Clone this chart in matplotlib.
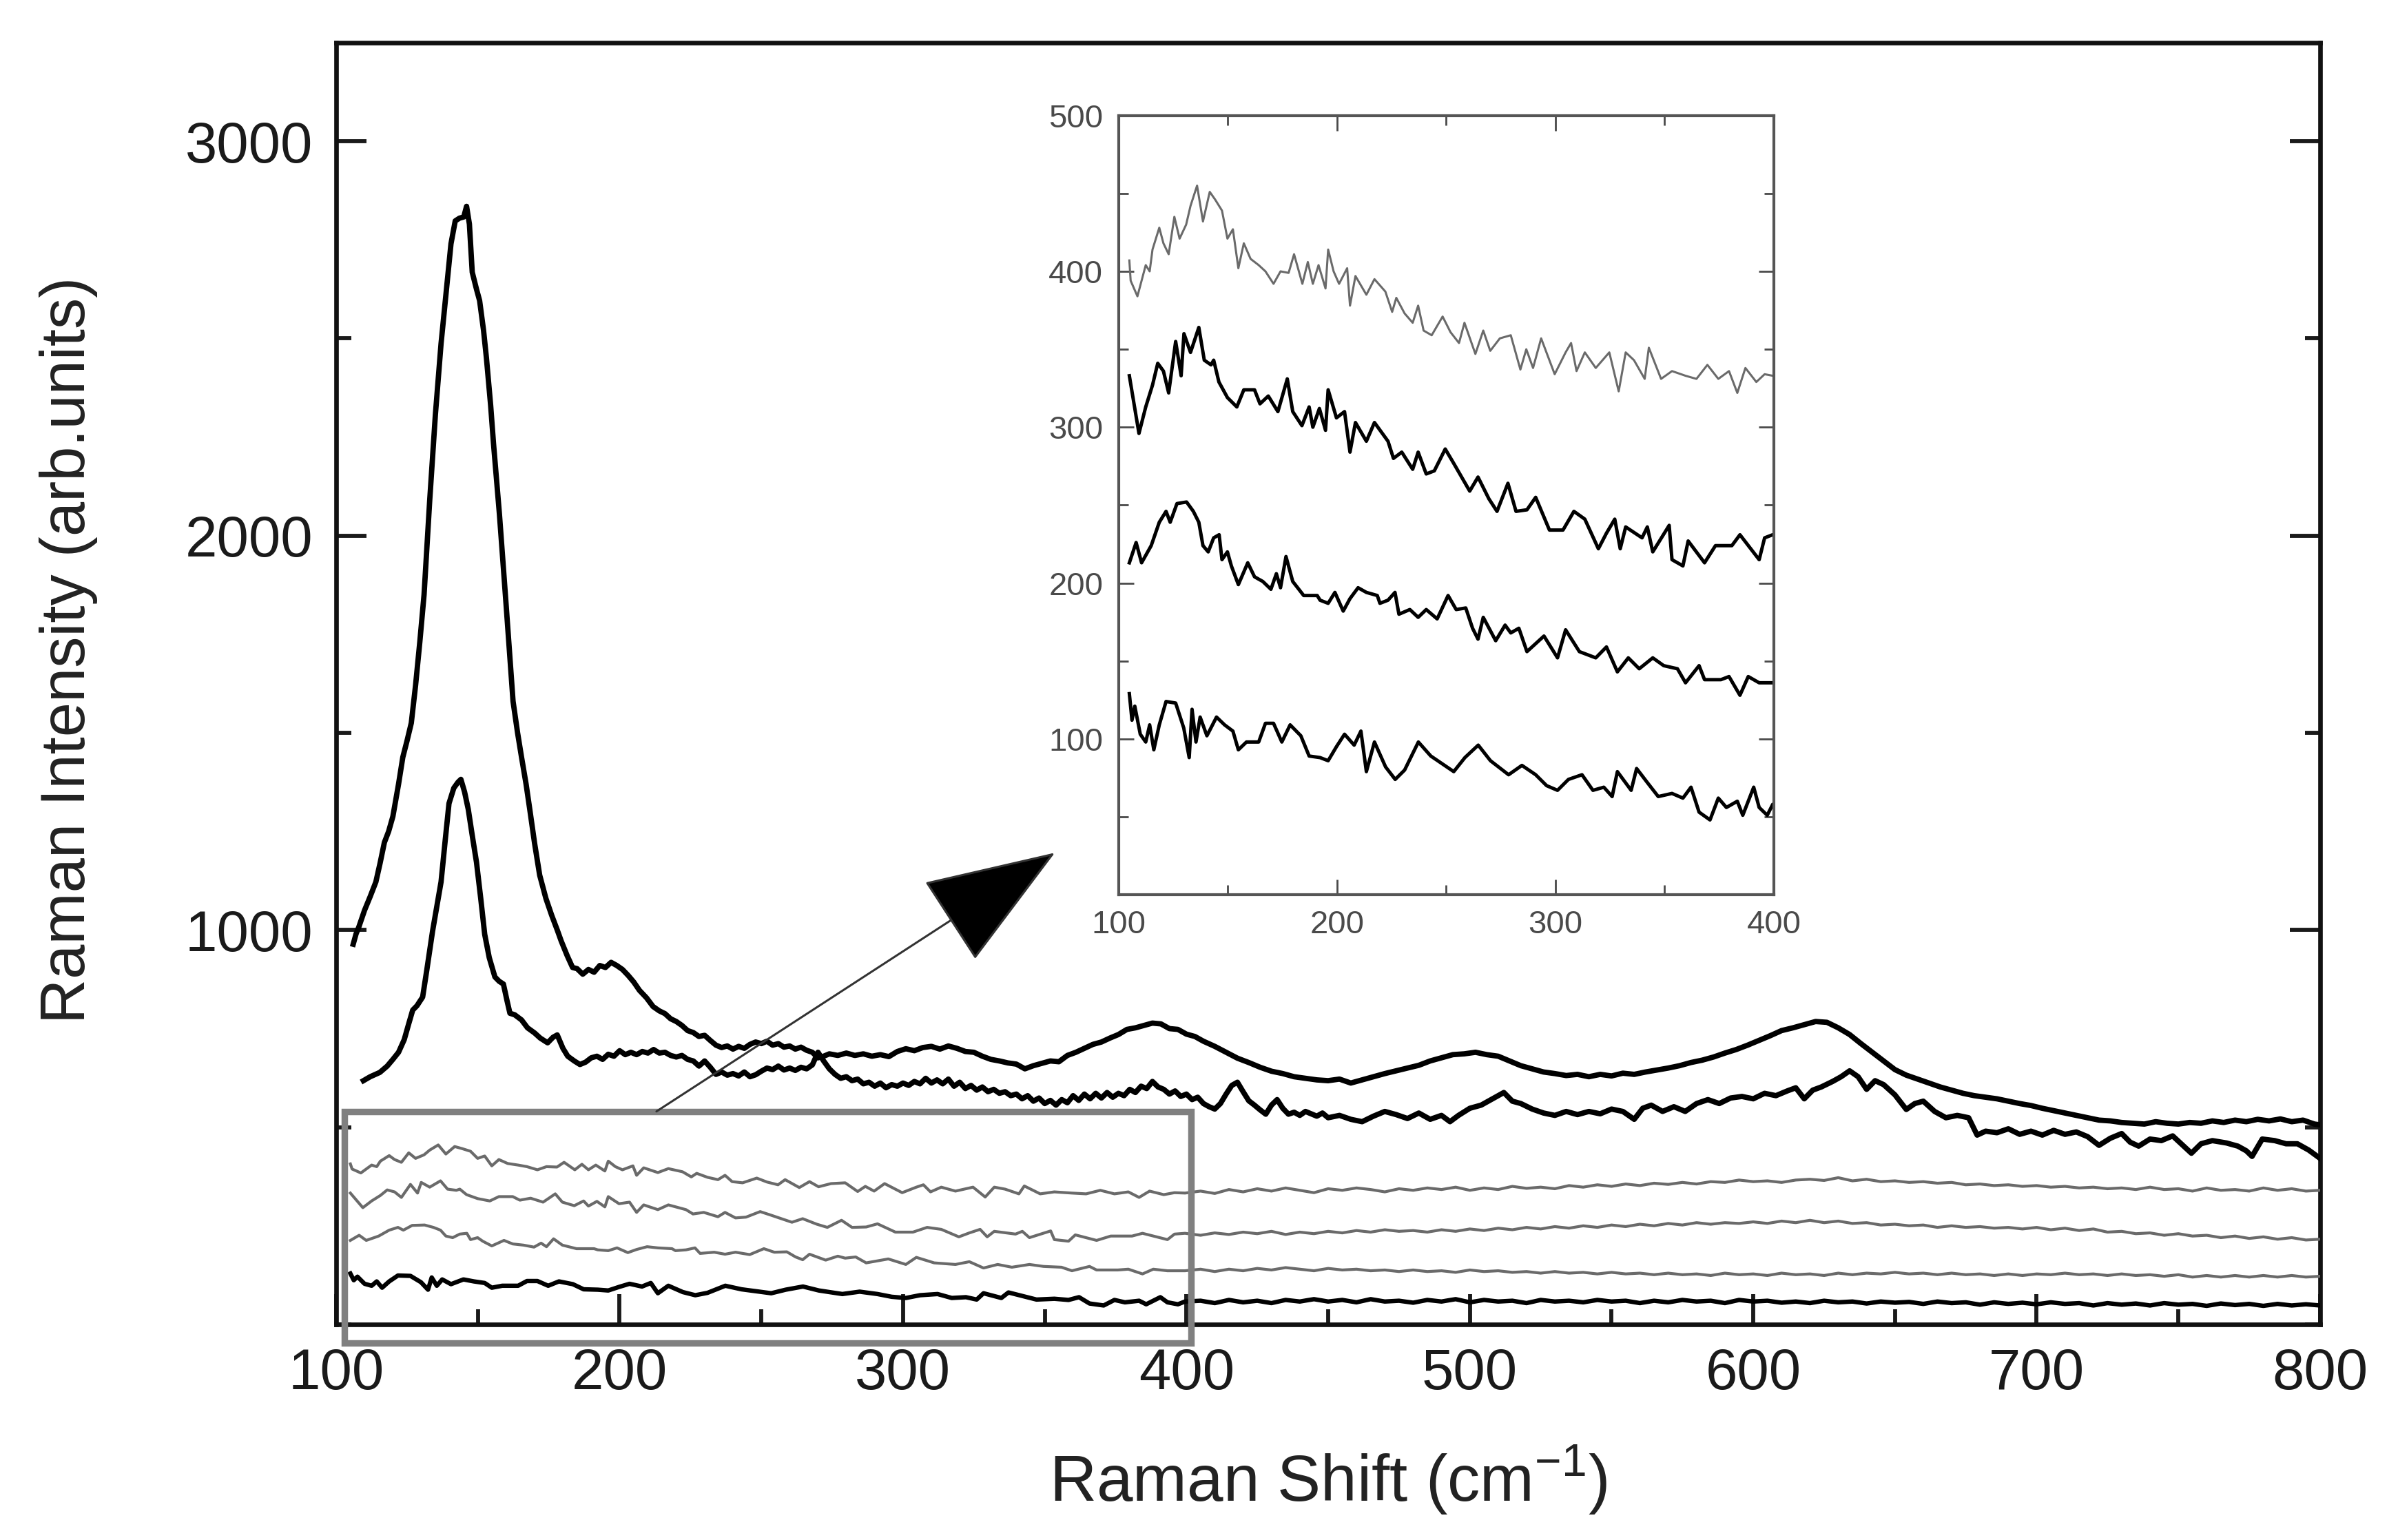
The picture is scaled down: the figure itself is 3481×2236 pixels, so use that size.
import numpy as np
import matplotlib
matplotlib.use("Agg")
import matplotlib.pyplot as plt
from matplotlib.patches import Rectangle
from matplotlib.ticker import MultipleLocator

plt.rcParams['font.family'] = ['Liberation Sans', 'DejaVu Sans']
plt.rcParams['mathtext.fontset'] = 'custom'
plt.rcParams['mathtext.rm'] = 'Liberation Sans'

# --- DATA: (Raman shift, intensity) pairs ---
strong_peak = [
    (106, 964), (107, 990), (108, 1008), (110, 1050), (112, 1085), (114, 1122), (115.5, 1170),
    (117, 1222), (118.5, 1250), (120, 1288), (122, 1370), (123.5, 1438), (125, 1480), (126.5, 1525),
    (128, 1620), (129.5, 1730), (131, 1850), (133, 2090), (135, 2307), (137, 2487), (139, 2632),
    (140.5, 2740), (142, 2798), (143.5, 2805), (145, 2808), (146, 2835), (147, 2790), (148, 2668),
    (149.5, 2625), (150.6, 2596), (152, 2520), (153, 2451), (154.5, 2330), (155.5, 2234), (157.6, 2054),
    (160, 1820), (162.4, 1580), (164, 1500), (165.4, 1438), (167, 1370), (168.3, 1306), (170, 1220),
    (171.8, 1139), (174, 1080), (176, 1038), (178, 1000), (179.4, 972), (181.5, 935), (183.4, 905),
    (185, 902), (187, 888), (189, 900), (191, 893), (193, 910), (195, 905), (197, 918), (199, 910),
    (201, 900), (203, 885), (205, 868), (207, 847), (209.5, 828), (211.8, 806), (214, 795), (216, 788),
    (218, 775), (220, 768), (222, 758), (224, 745), (226, 740), (228, 730), (230, 733), (232, 720),
    (234, 708), (236, 702), (238, 706), (240, 698), (242, 705), (244, 700), (246, 710), (248, 716),
    (250, 712), (252, 718), (254, 708), (256, 712), (258, 703), (260, 706), (262, 698), (264, 703),
    (266, 695), (268, 690), (270, 676), (272, 680), (274, 686), (277, 682), (280, 688), (283, 682),
    (286, 686), (289, 680), (292, 684), (295, 679), (298, 692), (301, 699), (304, 694), (307, 702),
    (310, 705), (313, 698), (316, 706), (319, 700), (322, 692), (325, 690), (328, 680), (331, 672),
    (334, 668), (337, 663), (340, 660), (343, 648), (346, 656), (349, 662), (352, 668), (355, 666),
    (358, 682), (361, 690), (364, 700), (367, 710), (370, 716), (373, 726), (376, 735), (379, 748),
    (382, 752), (385, 758), (388, 764), (391, 762), (394, 750), (397, 748), (400, 736), (403, 730),
    (406, 718), (410, 705), (414, 690), (418, 675), (422, 664), (426, 652), (430, 642), (434, 636),
    (438, 628), (442, 624), (446, 620), (450, 618), (454, 622), (458, 612), (462, 620), (466, 628),
    (470, 636), (474, 643), (478, 650), (482, 657), (486, 668), (490, 676), (494, 684), (498, 686),
    (502, 690), (506, 684), (510, 680), (514, 668), (518, 656), (522, 648), (526, 640), (530, 636),
    (534, 631), (538, 634), (542, 628), (546, 634), (550, 630), (554, 637), (558, 634), (562, 640),
    (566, 645), (570, 650), (574, 656), (578, 664), (582, 670), (586, 678), (590, 688), (594, 697),
    (598, 708), (602, 720), (606, 732), (610, 745), (614, 752), (618, 760), (622, 768), (626, 766),
    (630, 752), (634, 735), (638, 712), (642, 690), (646, 668), (650, 646), (654, 632), (658, 622),
    (662, 612), (666, 602), (670, 594), (674, 586), (678, 580), (682, 576), (686, 572), (690, 566),
    (694, 560), (698, 555), (702, 548), (706, 542), (710, 536), (714, 530), (718, 524), (722, 518),
    (726, 516), (730, 512), (734, 510), (738, 508), (742, 514), (746, 510), (750, 508), (754, 512),
    (758, 510), (762, 516), (766, 512), (770, 518), (774, 514), (778, 520), (782, 516), (786, 521),
    (790, 514), (794, 518), (798, 508), (800, 506),
]

weak_peak = [
    (109.6, 618), (112, 628), (115.4, 639), (118, 655), (120, 672), (122, 690), (124, 722), (125.5, 760),
    (127, 797), (128.5, 808), (130.5, 830), (132, 900), (134, 997), (135.5, 1060), (137, 1122),
    (138.5, 1230), (139.8, 1321), (141.5, 1360), (143, 1375), (144, 1382), (145.3, 1350), (146.6, 1306),
    (148, 1240), (149.5, 1172), (151, 1080), (152.4, 989), (154, 930), (156, 881), (157.5, 870),
    (159, 863), (160.3, 820), (161.3, 789), (163, 785), (165.4, 772), (167.5, 752), (170, 739),
    (172, 726), (174.6, 714), (176.5, 728), (178, 734), (180, 700), (181.7, 680), (184, 668), (186, 659),
    (188, 665), (190, 676), (192, 680), (194, 672), (196, 685), (198, 680), (200, 694), (202, 684),
    (204, 690), (206, 684), (208, 692), (210, 688), (212, 697), (214, 688), (216, 690), (218, 682),
    (220, 678), (222, 682), (224, 672), (226, 668), (228, 655), (230, 668), (232, 652), (234, 634),
    (236, 640), (238, 632), (240, 636), (242, 630), (244, 640), (246, 628), (248, 633), (250, 642),
    (252, 650), (254, 646), (256, 655), (258, 645), (260, 650), (262, 644), (264, 652), (266, 648),
    (268, 658), (270, 690), (272, 668), (274, 648), (276, 634), (278, 624), (280, 628), (282, 618),
    (284, 622), (286, 610), (288, 614), (290, 604), (292, 612), (294, 600), (296, 608), (298, 604),
    (300, 612), (302, 606), (304, 616), (306, 610), (308, 624), (310, 612), (312, 620), (314, 610),
    (316, 622), (318, 604), (320, 614), (322, 598), (324, 606), (326, 594), (328, 602), (330, 590),
    (332, 596), (334, 586), (336, 590), (338, 580), (340, 584), (342, 572), (344, 580), (346, 566),
    (348, 574), (350, 560), (352, 568), (354, 556), (356, 570), (358, 562), (360, 580), (362, 568),
    (364, 584), (366, 572), (368, 586), (370, 574), (372, 588), (374, 576), (376, 586), (378, 580),
    (380, 596), (382, 588), (384, 604), (386, 598), (388, 616), (390, 602), (392, 596), (394, 584),
    (396, 592), (398, 578), (400, 584), (402, 570), (404, 576), (406, 560), (408, 552), (410, 546),
    (412, 560), (414, 584), (416, 606), (418, 614), (420, 590), (422, 567), (424, 556), (426, 544),
    (428, 533), (430, 556), (432, 570), (434, 548), (436, 533), (438, 538), (440, 530), (442, 540),
    (444, 534), (446, 528), (448, 536), (450, 524), (454, 530), (458, 520), (462, 514), (466, 528),
    (470, 540), (474, 532), (478, 522), (482, 536), (486, 520), (490, 530), (493, 514), (496, 530),
    (500, 548), (504, 556), (508, 572), (512, 588), (515, 566), (518, 560), (522, 546), (526, 536),
    (530, 530), (534, 540), (538, 532), (542, 540), (546, 534), (550, 546), (554, 540), (558, 520),
    (561, 548), (564, 556), (568, 540), (572, 552), (576, 540), (580, 560), (584, 570), (588, 560),
    (592, 574), (596, 578), (600, 572), (604, 586), (608, 580), (612, 592), (615, 600), (618, 572),
    (621, 594), (624, 602), (628, 616), (631, 628), (634, 643), (637, 628), (640, 596), (643, 618),
    (646, 608), (650, 582), (654, 545), (657, 560), (660, 566), (664, 540), (668, 524), (672, 530),
    (676, 524), (679, 480), (682, 490), (686, 486), (690, 496), (694, 482), (698, 490), (702, 480),
    (706, 492), (710, 482), (714, 488), (718, 476), (722, 454), (726, 472), (730, 484), (733, 462),
    (736, 452), (740, 470), (744, 466), (748, 478), (751, 458), (754.6, 434), (758, 458), (762, 466),
    (767, 460), (771, 452), (774, 440), (776, 426), (779.6, 470), (784, 466), (788, 458), (792, 458),
    (796, 442), (800, 421),
]

flat_1 = [
    (105, 407), (105.6, 394), (108.7, 384), (112.5, 404), (114.3, 400), (115.6, 414), (118.7, 428),
    (120.6, 418), (123, 411), (125.6, 435), (128, 421), (131, 430), (133, 442), (136, 455), (138.7, 432),
    (141.8, 451), (144.3, 446), (147.4, 439), (149.9, 421), (152.4, 427), (154.9, 402), (157.4, 418),
    (160.5, 408), (164.2, 404), (167.3, 400), (171, 392), (174.2, 400), (177.9, 399), (180.4, 411),
    (184.2, 392), (186.7, 406), (189, 392), (191.6, 404), (194.8, 389), (196, 414), (198.5, 400),
    (201, 392), (204.7, 402), (206, 378), (208.5, 397), (213.5, 385), (217.2, 395), (222.2, 387),
    (225.3, 374), (227.2, 383), (231, 373), (234.7, 367), (237.2, 378), (239.7, 362), (243.4, 359),
    (248.4, 371), (252, 361), (255.9, 354), (258.4, 367), (263.4, 347), (267, 362), (270.2, 349),
    (274.6, 357), (279.6, 359), (284, 337), (286.7, 350), (289.8, 338), (293.5, 357), (299.7, 334),
    (304.7, 348), (307.2, 354), (309.7, 336), (313.5, 348), (318.5, 338), (324.7, 348), (329, 323),
    (332.2, 348), (336, 343), (340.9, 331), (342.8, 351), (348.4, 331), (353.4, 336), (359.6, 333),
    (364.6, 331), (369.6, 340), (374.6, 331), (379.5, 336), (383.3, 322), (387, 338), (392, 329),
    (395.8, 334), (399.5, 333), (405, 338), (410, 332), (415, 342), (420, 336), (425, 344), (430, 338),
    (435, 346), (440, 340), (445, 334), (450, 344), (455, 340), (460, 346), (465, 342), (470, 336),
    (475, 344), (480, 340), (485, 346), (490, 342), (495, 348), (500, 340), (505, 346), (510, 342),
    (515, 350), (520, 345), (525, 348), (530, 344), (535, 352), (540, 348), (545, 354), (550, 350),
    (555, 356), (560, 352), (565, 358), (570, 355), (575, 360), (580, 356), (585, 362), (590, 360),
    (595, 366), (600, 362), (605, 364), (610, 360), (615, 366), (620, 368), (625, 365), (630, 372),
    (635, 364), (640, 368), (645, 362), (650, 364), (655, 360), (660, 362), (665, 358), (670, 360),
    (675, 354), (680, 356), (685, 352), (690, 354), (695, 350), (700, 352), (705, 348), (710, 350),
    (715, 346), (720, 348), (725, 344), (730, 346), (735, 342), (740, 348), (745, 342), (750, 344),
    (755, 338), (760, 346), (765, 340), (770, 342), (775, 338), (780, 346), (785, 340), (790, 344),
    (795, 338), (800, 340),
]

flat_2 = [
    (105, 333), (109.4, 296), (112.5, 313), (115.6, 327), (118, 341), (120.6, 336), (123, 322),
    (126.2, 355), (128.7, 333), (130, 360), (133, 348), (136.8, 364), (139.3, 343), (142.4, 340),
    (143.6, 343), (146, 329), (149.9, 319), (154.2, 313), (157.4, 324), (162.3, 324), (164.8, 315),
    (168.6, 320), (173, 310), (177.3, 331), (179.8, 310), (184, 301), (187.3, 313), (189, 300),
    (192, 312), (194.8, 298), (196, 324), (199.8, 306), (203.5, 310), (206, 284), (208.5, 303),
    (213.5, 291), (217.2, 303), (223.4, 291), (225.9, 280), (229.7, 284), (234.7, 273), (237.2, 284),
    (240.9, 270), (244.6, 272), (249.6, 286), (253.4, 277), (257.1, 268), (260.8, 259), (264.6, 268),
    (269.6, 254), (273.3, 246), (278.3, 264), (282, 246), (287, 247), (291, 255), (297.3, 234),
    (303.5, 234), (308.5, 246), (313.5, 241), (319.7, 222), (323.4, 232), (327.2, 241), (329.7, 222),
    (332.2, 236), (339.7, 229), (342.1, 236), (344.6, 220), (352.1, 237), (353.4, 215), (358.4, 211),
    (360.8, 227), (368.3, 213), (373.3, 224), (380.8, 224), (384.5, 231), (393.3, 215), (395.8, 229),
    (399.5, 231), (405, 226), (410, 232), (415, 228), (420, 234), (425, 230), (430, 236), (435, 228),
    (440, 234), (445, 230), (450, 236), (455, 232), (460, 238), (465, 234), (470, 240), (475, 236),
    (480, 238), (485, 234), (490, 240), (495, 236), (500, 242), (505, 238), (510, 244), (515, 240),
    (520, 246), (525, 242), (530, 248), (535, 244), (540, 250), (545, 246), (550, 252), (555, 248),
    (560, 254), (565, 250), (570, 256), (575, 252), (580, 258), (585, 254), (590, 258), (595, 256),
    (600, 260), (605, 256), (610, 262), (615, 258), (620, 264), (625, 258), (630, 262), (635, 256),
    (640, 258), (645, 252), (650, 254), (655, 250), (660, 252), (665, 246), (670, 250), (675, 246),
    (680, 248), (685, 244), (690, 246), (695, 242), (700, 246), (705, 240), (710, 244), (715, 238),
    (720, 242), (725, 234), (730, 236), (735, 230), (740, 232), (745, 226), (750, 230), (755, 224),
    (760, 226), (765, 220), (770, 224), (775, 218), (780, 222), (785, 216), (790, 220), (795, 214),
    (800, 216),
]

flat_3 = [
    (105, 213), (108.1, 226), (110.6, 213), (115, 224), (118.7, 239), (121.8, 246), (123.7, 239),
    (126.8, 251), (131.2, 252), (134.3, 246), (136.8, 239), (138.7, 224), (141.1, 220), (143.6, 229),
    (146.1, 231), (147.4, 215), (149.9, 220), (151.7, 211), (154.9, 199), (159.2, 213), (162.3, 204),
    (166.1, 201), (169.8, 196), (172.3, 206), (174.2, 197), (176.7, 217), (179.8, 201), (184.8, 192),
    (191, 192), (192.3, 189), (196, 187), (199.1, 194), (202.9, 182), (206, 190), (209.7, 197),
    (213.5, 194), (218.5, 192), (219.7, 187), (223.4, 189), (226.6, 194), (228.4, 180), (233.4, 183),
    (237.2, 178), (240.9, 183), (245.9, 177), (250.9, 192), (254.6, 183), (259, 184), (262.1, 171),
    (264.6, 164), (267, 178), (272.7, 163), (277, 173), (279.6, 168), (283.3, 171), (287, 156),
    (294.8, 166), (301, 152), (304.7, 170), (311, 156), (318.5, 152), (323.4, 159), (328.4, 143),
    (333.4, 152), (338.4, 145), (344.6, 152), (349.6, 147), (355.9, 145), (359.6, 136), (365.8, 147),
    (368.3, 138), (375.8, 138), (379.5, 140), (384.5, 128), (388.3, 140), (393.3, 136), (399.5, 136),
    (405, 140), (410, 134), (415, 140), (420, 136), (425, 142), (430, 138), (435, 144), (440, 140),
    (445, 136), (450, 142), (455, 138), (460, 140), (465, 136), (470, 138), (475, 134), (480, 138),
    (485, 134), (490, 136), (495, 132), (500, 138), (505, 134), (510, 136), (515, 132), (520, 134),
    (525, 130), (530, 134), (535, 130), (540, 132), (545, 128), (550, 132), (555, 128), (560, 130),
    (565, 126), (570, 130), (575, 126), (580, 128), (585, 124), (590, 130), (595, 126), (600, 128),
    (605, 124), (610, 130), (615, 126), (620, 128), (625, 124), (630, 130), (635, 126), (640, 130),
    (645, 128), (650, 132), (655, 128), (660, 130), (665, 126), (670, 130), (675, 126), (680, 128),
    (685, 124), (690, 128), (695, 124), (700, 128), (705, 126), (710, 130), (715, 126), (720, 128),
    (725, 124), (730, 128), (735, 124), (740, 126), (745, 122), (750, 126), (755, 120), (760, 124),
    (765, 120), (770, 124), (775, 120), (780, 124), (785, 120), (790, 124), (795, 120), (800, 122),
]

flat_4 = [
    (105, 129), (106.2, 112), (107.5, 121), (110, 103), (112.5, 98), (114.3, 109), (116.2, 93),
    (118.7, 109), (121.8, 124), (126.2, 123), (129.9, 107), (132.4, 88), (133.7, 119), (135.5, 98),
    (137.4, 114), (140.5, 102), (144.9, 114), (148.6, 109), (152.4, 105), (154.9, 93), (158.6, 98),
    (164.2, 98), (167.3, 110), (171, 110), (174.8, 98), (178.6, 109), (183.5, 102), (187.3, 89),
    (192.3, 88), (196, 86), (199.8, 95), (203.5, 103), (207.9, 96), (211, 105), (213.5, 79),
    (217.2, 98), (222.3, 82), (226.7, 74), (231, 80), (237.3, 98), (243, 89), (247.2, 85), (253.5, 79),
    (258.6, 88), (264.7, 96), (270.3, 86), (278.6, 77), (284.7, 83), (291, 77), (296, 70), (301, 67),
    (306, 74), (312.2, 77), (317.2, 67), (322.2, 69), (326, 63), (328.4, 79), (334.7, 67), (337.2, 81),
    (342.1, 72), (347.1, 63), (353.4, 65), (358.4, 62), (362.1, 69), (365.8, 53), (370.8, 48),
    (374.6, 62), (378.3, 56), (383.3, 60), (385.8, 51), (390.8, 69), (393.3, 56), (397, 51), (399.5, 58),
    (405, 60), (410, 54), (415, 62), (420, 56), (425, 60), (430, 54), (435, 62), (440, 58), (445, 64),
    (450, 58), (455, 62), (460, 56), (465, 64), (470, 58), (475, 60), (480, 55), (485, 62), (490, 58),
    (495, 64), (500, 56), (505, 62), (510, 58), (515, 60), (520, 54), (525, 62), (530, 58), (535, 60),
    (540, 56), (545, 62), (550, 58), (555, 60), (560, 54), (565, 60), (570, 56), (575, 62), (580, 58),
    (585, 60), (590, 54), (595, 62), (600, 58), (605, 60), (610, 55), (615, 58), (620, 54), (625, 60),
    (630, 56), (635, 58), (640, 53), (645, 58), (650, 55), (655, 57), (660, 52), (665, 58), (670, 54),
    (675, 56), (680, 50), (685, 56), (690, 52), (695, 55), (700, 51), (705, 56), (710, 52), (715, 54),
    (720, 48), (725, 54), (730, 50), (735, 53), (740, 48), (745, 54), (750, 50), (755, 52), (760, 47),
    (765, 53), (770, 49), (775, 52), (780, 47), (785, 52), (790, 48), (795, 51), (800, 48),
]

main_yticks = [1000, 2000, 3000]
inset_yticks = [100, 200, 300, 400, 500]


def xy(pairs):
    arr = np.array(pairs, dtype=float)
    return arr[:, 0], arr[:, 1]


fig = plt.figure(figsize=(17.405, 11.18), dpi=200)
ax = fig.add_axes([0.1402, 0.14, 0.8273, 0.8323])

# --- main spectra ---
for pairs in (strong_peak, weak_peak):
    ax.plot(*xy(pairs), color='black', lw=2.8, zorder=3)
for pairs in (flat_1, flat_2, flat_3):
    ax.plot(*xy(pairs), color='#6a6a6a', lw=1.5, zorder=3)
ax.plot(*xy(flat_4), color='black', lw=2.3, zorder=3)

ax.set_xlim(100, 800)
ax.set_ylim(0, 3250)
ax.xaxis.set_major_locator(MultipleLocator(100))
ax.xaxis.set_minor_locator(MultipleLocator(50))
ax.set_yticks(main_yticks)
ax.yaxis.set_minor_locator(MultipleLocator(500))
ax.tick_params(which='both', direction='in', top=False, right=True, width=2.1,
               labelsize=30, colors='#1a1a1a')
ax.tick_params(which='major', length=16, pad=12)
ax.tick_params(which='minor', length=8)
for sp in ax.spines.values():
    sp.set_linewidth(2.4)
    sp.set_color('#111111')

# zoom box + pointer
ax.add_patch(Rectangle((103, -47), 298.7, 587, fill=False, ec='#808080', lw=3.4,
                       clip_on=False, zorder=6))
ax.annotate('', xy=(353.6, 1196), xytext=(213, 540),
            arrowprops=dict(arrowstyle='-|>,head_length=0.63,head_width=0.23',
                            mutation_scale=100, color='#333333', fc='black',
                            lw=1.1, shrinkA=0, shrinkB=0), zorder=6)

fig.text(0.0287, 0.578, 'Raman Intensity (arb.units)', rotation=90, ha='center', va='center',
         fontsize=32.5, color='#222222')
fig.text(0.554, 0.039, r'Raman Shift (cm$^{\mathrm{-1}}$)', ha='center', va='center',
         fontsize=34, color='#222222')

# --- inset: 100-400 cm-1 detail ---
axins = fig.add_axes([0.4664, 0.419, 0.2733, 0.506])
axins.set_facecolor('white')
axins.plot(*xy(flat_1), color='#6a6a6a', lw=1.1)
for pairs in (flat_2, flat_3, flat_4):
    axins.plot(*xy(pairs), color='black', lw=1.8)
axins.set_xlim(100, 400)
axins.set_ylim(0, 500)
axins.xaxis.set_major_locator(MultipleLocator(100))
axins.xaxis.set_minor_locator(MultipleLocator(50))
axins.set_yticks(inset_yticks)
axins.yaxis.set_minor_locator(MultipleLocator(50))
axins.tick_params(which='both', direction='in', top=True, right=True, width=1.0,
                  labelsize=17, colors='#4a4a4a')
axins.tick_params(which='major', length=7.8, pad=8)
axins.tick_params(which='minor', length=5)
for sp in axins.spines.values():
    sp.set_linewidth(1.5)
    sp.set_color('#555555')

fig.savefig('out.png', dpi=200, facecolor='white')
